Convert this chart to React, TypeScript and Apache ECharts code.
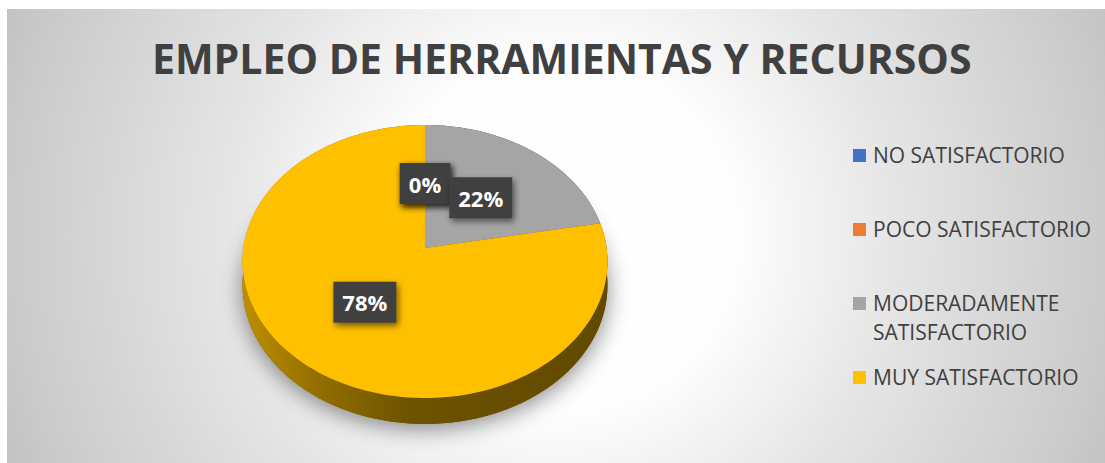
import React, { useEffect, useRef } from 'react';
import * as echarts from 'echarts';

const TITLE = 'EMPLEO DE HERRAMIENTAS Y RECURSOS';
const categories = ['NO SATISFACTORIO', 'POCO SATISFACTORIO', 'MODERADAMENTE SATISFACTORIO', 'MUY SATISFACTORIO'];
const values = [0, 0, 22, 78];
const colors = ['#4472C4', '#ED7D31', '#A5A5A5', '#FFC000'];

function shade(hex: string, f: number): string {
  const n = parseInt(hex.slice(1), 16);
  const r = Math.round(((n >> 16) & 255) * f);
  const g = Math.round(((n >> 8) & 255) * f);
  const b = Math.round((n & 255) * f);
  return `rgb(${r},${g},${b})`;
}

export default function App() {
  const ref = useRef<HTMLDivElement>(null);
  useEffect(() => {
    const chart = echarts.init(ref.current as HTMLDivElement, null, { renderer: 'svg' });
    const total = values.reduce((a, b) => a + b, 0);
    const starts: number[] = [];
    let acc = 0;
    values.forEach((v) => { starts.push(acc); acc += v; });

    // 3D pie projection
    const cx = 425, cy = 248, A = 181.6, B = 135.2, K = 0.0989, D = 23.4;
    const proj = (theta: number, r: number, depth: number) => {
      const u = r * Math.sin(theta);
      const v = -r * Math.cos(theta);
      const w = 1 - K * v;
      return [cx + (A * u) / w, cy + (B * v + depth) / w];
    };
    const arc = (a0: number, a1: number, r: number, depth: number) => {
      const n = Math.max(2, Math.ceil(((a1 - a0) / (Math.PI * 2)) * 180));
      const pts: number[][] = [];
      for (let j = 0; j <= n; j++) pts.push(proj(a0 + ((a1 - a0) * j) / n, r, depth));
      return pts;
    };

    const renderItem = (params: any, api: any) => {
      const i = params.dataIndex;
      const v = api.value(0);
      const a0 = (starts[i] / total) * Math.PI * 2;
      const a1 = ((starts[i] + v) / total) * Math.PI * 2;
      const children: any[] = [];
      if (i === 0) {
        children.push({
          type: 'polygon',
          shape: { points: arc(0, Math.PI * 2, 1, D) },
          style: { fill: '#6a5000', shadowBlur: 22, shadowColor: 'rgba(0,0,0,0.45)', shadowOffsetY: 5 },
          z2: 0,
        });
      }
      if (v > 0) {
        const top = arc(a0, a1, 1, 0);
        const bottom = arc(a0, a1, 1, D).reverse();
        const c = colors[i];
        children.push({
          type: 'polygon',
          shape: { points: top.concat(bottom) },
          style: {
            fill: new echarts.graphic.LinearGradient(cx - A, 0, cx + A, 0, [
              { offset: 0, color: shade(c, 0.74) },
              { offset: 0.2, color: shade(c, 0.58) },
              { offset: 0.45, color: shade(c, 0.43) },
              { offset: 1, color: shade(c, 0.38) },
            ], true),
          },
          z2: 1,
        });
        children.push({
          type: 'polygon',
          shape: { points: [[cx, cy]].concat(top) },
          style: { fill: c },
          z2: 2,
        });
      }
      const mid = (a0 + a1) / 2;
      const p = proj(mid, 0.5, 0);
      children.push({
        type: 'text',
        x: p[0],
        y: p[1],
        style: {
          text: Math.round((v / total) * 100) + '%',
          fill: '#ffffff',
          font: 'bold 22px "Open Sans"',
          align: 'center',
          verticalAlign: 'middle',
          lineHeight: 25,
          backgroundColor: '#404040',
          padding: [8, 9, 8, 9],
          shadowBlur: 6,
          shadowColor: 'rgba(0,0,0,0.55)',
          shadowOffsetX: 2,
          shadowOffsetY: 3,
        },
        z2: 10 + i,
      });
      return { type: 'group', children };
    };

    const slot = 74;
    const legendTop = 155;
    const legendEls: any[] = [];
    categories.forEach((name, i) => {
      const y = legendTop + i * slot;
      legendEls.push({
        type: 'rect',
        shape: { x: 853, y: y - 6, width: 13, height: 13 },
        style: { fill: colors[i] },
      });
      legendEls.push({
        type: 'text',
        x: 873,
        y: y - 14.5,
        style: {
          text: name,
          font: '21px "Open Sans"',
          fill: '#404040',
          lineHeight: 29,
          width: 228,
          overflow: 'break',
          verticalAlign: 'top',
          align: 'left',
        },
      });
    });

    chart.setOption({
      animation: false,
      backgroundColor: '#ffffff',
      title: {
        text: TITLE,
        left: 152,
        top: 37,
        padding: 0,
        textStyle: { fontFamily: 'Open Sans', fontWeight: 'bold', fontSize: 41, color: '#404040' },
      },
      graphic: [
        {
          type: 'rect',
          z: -10,
          shape: { x: 7, y: 9, width: 1098, height: 454 },
          style: {
            fill: new echarts.graphic.RadialGradient(560, 235, 600, [
              { offset: 0, color: '#ffffff' },
              { offset: 0.3, color: '#fdfdfd' },
              { offset: 0.55, color: '#e6e6e6' },
              { offset: 0.92, color: '#cacaca' },
              { offset: 1, color: '#c2c2c2' },
            ], true),
          },
        },
        ...legendEls,
      ],
      series: [
        {
          type: 'custom',
          coordinateSystem: 'none',
          silent: true,
          renderItem,
          data: values.map((v, i) => ({ name: categories[i], value: [v] })),
        },
      ],
    });
    return () => chart.dispose();
  }, []);
  return <div ref={ref} style={{ position: 'absolute', left: 0, top: 0, width: 1105, height: 463 }} />;
}
